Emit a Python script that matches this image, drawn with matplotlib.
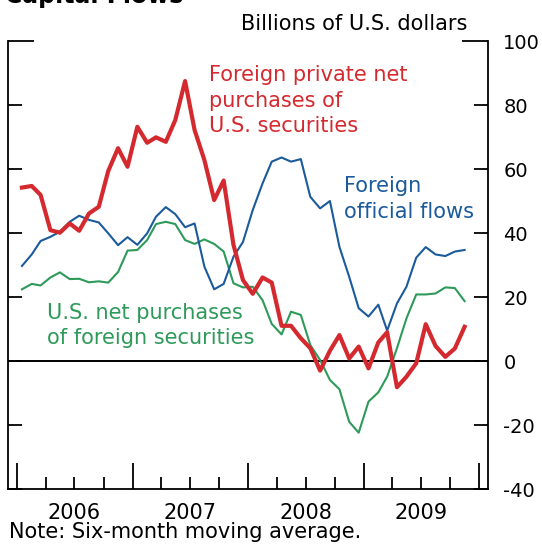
"""Capital flows chart: six-month moving averages, 2006-2009."""

import pandas as pd
import matplotlib.dates as mdates
from matplotlib import pyplot as plt

plt.rcParams["font.family"] = ["DejaVu Sans"]
plt.rcParams["axes.unicode_minus"] = False

# monthly observations, Jan 2006 - Nov 2009 (billions of U.S. dollars)
months = pd.date_range("2006-01-01", periods=47, freq="MS") + pd.Timedelta(days=15)

private_purchases = [
    54.2, 54.7, 51.9, 40.9, 40.1, 43.0, 40.7, 46.1, 48.2, 59.4, 66.5, 60.7,
    73.2, 68.2, 69.9, 68.5, 75.3, 87.5, 72.2, 62.8, 50.3, 56.4, 36.3, 25.3,
    21.0, 26.1, 24.5, 11.0, 11.0, 7.1, 4.0, -3.0, 3.2, 8.1, 0.8, 4.5,
    -2.3, 5.8, 9.0, -8.2, -4.9, -0.7, 11.5, 4.7, 1.3, 3.9, 10.7,
]
official_flows = [
    29.7, 33.3, 37.5, 38.8, 40.4, 43.5, 45.4, 44.1, 43.3, 39.9, 36.2, 38.7,
    36.3, 39.9, 45.1, 48.1, 45.9, 41.8, 43.0, 29.5, 22.4, 24.1, 32.6, 37.2,
    47.2, 55.5, 62.3, 63.6, 62.3, 63.1, 51.3, 47.7, 50.0, 35.7, 26.3, 16.5,
    13.9, 17.6, 9.5, 18.0, 23.2, 32.3, 35.6, 33.3, 32.8, 34.2, 34.7,
]
us_foreign_purchases = [
    22.4, 24.1, 23.6, 26.1, 27.7, 25.6, 25.7, 24.6, 24.9, 24.5, 27.8, 34.5,
    34.7, 37.8, 42.8, 43.5, 42.8, 37.8, 36.6, 38.0, 36.6, 34.2, 24.3, 23.0,
    23.2, 19.0, 11.6, 8.3, 15.4, 14.4, 5.0, 0.3, -5.9, -8.8, -19.0, -22.4,
    -12.7, -9.8, -4.9, 4.0, 13.3, 20.8, 20.8, 21.1, 23.0, 22.8, 18.7,
]

years = [2006, 2007, 2008, 2009]
y_ticks = [-40, -20, 0, 20, 40, 60, 80, 100]

RED = "#d42a2f"
BLUE = "#1b5a9b"
GREEN = "#2e9a5a"
FS = 15
LS = 1.33

fig = plt.figure(figsize=(5.42, 5.44), dpi=100)
ax = fig.add_axes([0.0148, 0.1011, 0.8856, 0.8235])

ax.axhline(0, color="black", lw=1.4, zorder=1)
ax.plot(months, us_foreign_purchases, color=GREEN, lw=1.5, zorder=2)
ax.plot(months, official_flows, color=BLUE, lw=1.5, zorder=3)
ax.plot(months, private_purchases, color=RED, lw=3.0, zorder=4)

ax.set_xlim(pd.Timestamp("2005-12-03"), pd.Timestamp("2010-01-29"))
ax.set_ylim(-40, 100)

# y axis: ticks on both spines, labels on the right only
ax.set_yticks(y_ticks)
ax.yaxis.tick_right()
ax.tick_params(axis="y", which="major", direction="in", length=10, width=1.3,
               left=True, right=True, labelleft=False, labelright=True,
               labelsize=14, pad=11)
for t in ax.yaxis.get_major_ticks()[-1:]:
    t.tick1line.set_markersize(19)
    t.tick2line.set_markersize(19)

# x axis: long ticks at year boundaries, short ones at quarters
ax.xaxis.set_major_locator(mdates.YearLocator())
ax.xaxis.set_minor_locator(mdates.MonthLocator(bymonth=[4, 7, 10]))
ax.tick_params(axis="x", which="major", direction="in", length=19, width=1.3,
               labelbottom=False)
ax.tick_params(axis="x", which="minor", direction="in", length=9, width=1.3)

# year labels centred in each year
sec = ax.secondary_xaxis("bottom")
sec.set_xticks([pd.Timestamp(f"{y}-07-01") for y in years])
sec.set_xticklabels([str(y) for y in years], fontsize=FS)
sec.tick_params(length=0, pad=10)
sec.spines["bottom"].set_visible(False)

ax.spines["top"].set_visible(False)
for s in ("left", "right", "bottom"):
    ax.spines[s].set_linewidth(1.3)

# series labels; y gives the baseline of the last line
ax.text(0.419, 0.797, "Foreign private net\npurchases of\nU.S. securities",
        transform=ax.transAxes, color=RED, fontsize=FS, va="baseline",
        linespacing=LS)
ax.text(0.700, 0.606, "Foreign\nofficial flows", transform=ax.transAxes,
        color=BLUE, fontsize=FS, va="baseline", linespacing=LS)
ax.text(0.081, 0.323, "U.S. net purchases\nof foreign securities",
        transform=ax.transAxes, color=GREEN, fontsize=FS, va="baseline",
        linespacing=LS)

fig.text(0.862, 0.945, "Billions of U.S. dollars", ha="right", va="baseline",
         fontsize=FS)
fig.text(0.01, 0.995, "Capital Flows", ha="left", va="baseline", fontsize=17,
         fontweight="bold")
fig.text(0.017, 0.011, "Note: Six-month moving average.", ha="left",
         va="baseline", fontsize=FS)

fig.savefig("out.png", dpi=100)
plt.close(fig)
